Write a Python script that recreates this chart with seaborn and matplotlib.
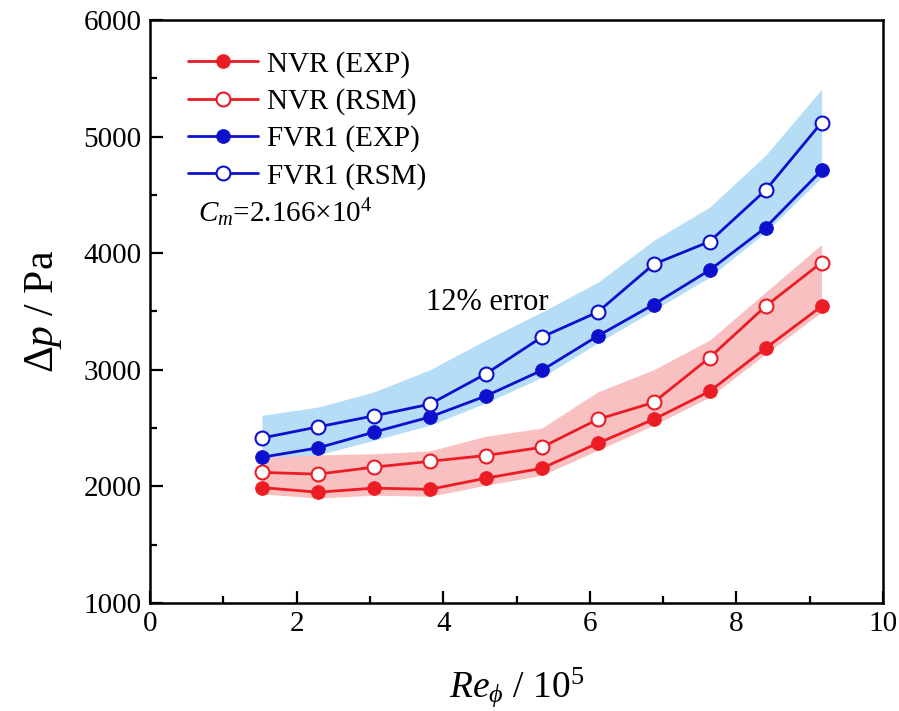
import matplotlib
matplotlib.use('Agg')
import matplotlib.pyplot as plt
from matplotlib.lines import Line2D
from matplotlib.ticker import MultipleLocator
import seaborn as sns
import pandas as pd

# ---------------- data ----------------
re_phi = [1.527, 2.290, 3.054, 3.817, 4.581, 5.344, 6.108, 6.871, 7.635, 8.398, 9.162]
nvr_exp = [1990, 1950, 1985, 1975, 2070, 2155, 2370, 2575, 2815, 3185, 3545]
nvr_rsm = [2120, 2105, 2165, 2215, 2265, 2335, 2575, 2720, 3105, 3545, 3920]
fvr1_exp = [2250, 2330, 2465, 2595, 2775, 2995, 3290, 3560, 3855, 4220, 4710]
fvr1_rsm = [2415, 2510, 2605, 2705, 2965, 3280, 3495, 3905, 4100, 4540, 5120]
nvr_band_lo = [1935, 1900, 1925, 1915, 2010, 2095, 2310, 2525, 2765, 3135, 3495]
nvr_band_hi = [2250, 2270, 2280, 2305, 2430, 2500, 2810, 3000, 3255, 3665, 4075]
fvr1_band_lo = [2210, 2270, 2395, 2525, 2715, 2935, 3230, 3510, 3795, 4180, 4650]
fvr1_band_hi = [2610, 2680, 2810, 3000, 3255, 3495, 3750, 4110, 4395, 4840, 5405]

series_labels = ['NVR (EXP)', 'NVR (RSM)', 'FVR1 (EXP)', 'FVR1 (RSM)']
x_ticks = [0, 2, 4, 6, 8, 10]
y_ticks = [1000, 2000, 3000, 4000, 5000, 6000]

RED = '#ec1c24'
BLUE = '#0d10cc'
PINK = '#f9c0c1'
SKY = '#b5ddf6'

sns.set_theme(style='ticks')
plt.rcParams['font.family'] = ['Liberation Serif', 'DejaVu Serif']
plt.rcParams['mathtext.fontset'] = 'custom'
plt.rcParams['mathtext.rm'] = 'Liberation Serif'
plt.rcParams['mathtext.it'] = 'Liberation Serif:italic'
plt.rcParams['mathtext.bf'] = 'Liberation Serif:bold'
plt.rcParams['text.color'] = 'black'
plt.rcParams['axes.labelcolor'] = 'black'

fig = plt.figure(figsize=(8.99, 7.11), dpi=100)
ax = fig.add_axes([150/899, 1-603/711, 733/899, 583/711])

# bands
ax.fill_between(re_phi, fvr1_band_lo, fvr1_band_hi, color=SKY, lw=0, zorder=1)
ax.fill_between(re_phi, nvr_band_lo, nvr_band_hi, color=PINK, lw=0, zorder=1)

df = pd.DataFrame({'x': re_phi, 'nvr_exp': nvr_exp, 'nvr_rsm': nvr_rsm,
                   'fvr1_exp': fvr1_exp, 'fvr1_rsm': fvr1_rsm})

LW = 2.0
MS = 10
specs = [('nvr_exp', RED, True), ('nvr_rsm', RED, False),
         ('fvr1_exp', BLUE, True), ('fvr1_rsm', BLUE, False)]
handles = []
for (col, c, filled), lab in zip(specs, series_labels):
    kw = dict(color=c, lw=LW, marker='o', markersize=MS,
              markerfacecolor=c if filled else 'white',
              markeredgecolor=c, markeredgewidth=1.5 if not filled else 0.5)
    sns.lineplot(data=df, x='x', y=col, ax=ax, zorder=3, legend=False, **kw)
    handles.append(Line2D([], [], label=lab, **kw))

ax.set_xlim(0, 10)
ax.set_ylim(1000, 6000)
ax.set_xticks(x_ticks)
ax.set_yticks(y_ticks)
ax.xaxis.set_minor_locator(MultipleLocator(1))
ax.yaxis.set_minor_locator(MultipleLocator(500))
ax.tick_params(which='both', direction='in', top=False, right=False,
               width=1.6, labelsize=21, pad=6, color='black', labelcolor='black')
ax.tick_params(which='major', length=9)
ax.tick_params(which='minor', length=5)
for s in ax.spines.values():
    s.set_linewidth(1.8)
    s.set_color('black')

ax.set_xlabel(r'$Re_\phi$ / 10$^5$', fontsize=27, labelpad=20, color='black')
ax.set_ylabel(r'$\Delta p$ / Pa', fontsize=30, labelpad=14, color='black')

leg = ax.legend(handles=handles, loc='upper left', bbox_to_anchor=(0.052, 0.947),
                frameon=False, fontsize=21, handlelength=2.4, handletextpad=0.3,
                labelspacing=0.355, borderaxespad=0, borderpad=0, labelcolor='black')

ax.text(0.065, 0.67, r'$C_m$=2.166×10$^4$', transform=ax.transAxes,
        fontsize=21, ha='left', va='center', color='black')
ax.text(4.6, 3580, '12% error', fontsize=22, ha='center', va='center', color='black')

fig.savefig('out.png', dpi=100)
